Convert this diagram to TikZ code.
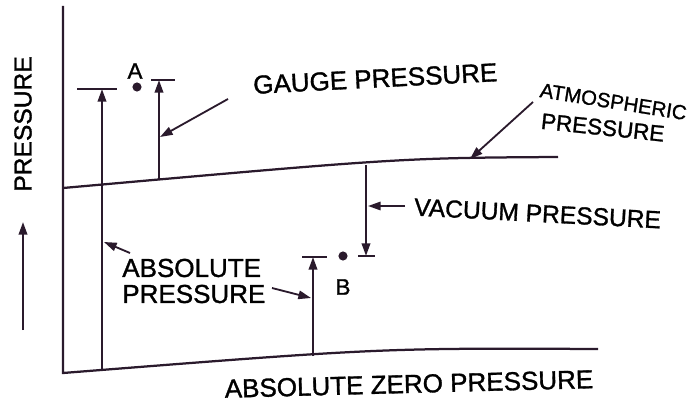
\documentclass[tikz,border=0pt]{standalone}
\usepackage{fontspec}
\setmainfont{Liberation Sans}[FakeBold=1.2]
\definecolor{myink}{HTML}{2A1A2C}
\usetikzlibrary{arrows.meta, positioning}
\tikzset{
	labeltext/.style={
			inner sep=0pt,
			font=\fontsize{18.5}{18.5}\selectfont,
			text=black
		},
	pointlabel/.style={
			labeltext,
			font=\fontsize{16}{16}\selectfont
		},
	pointnode/.style={
			circle,
			fill=myink,
			minimum size=6.5pt,
			inner sep=0pt
		},
	levelline/.style={
			draw=myink,
			line width=1.6pt
		},
	pointer/.style={
			levelline,
			-{Triangle[length=9pt,width=6pt]}
		},
	leader/.style={
			draw=myink,
			line width=1.3pt,
			-{Triangle[length=9pt,width=6pt]}
		}
}
\begin{document}
\begin{tikzpicture}[x=0.025cm, y=-0.025cm]
\useasboundingbox (0,0) rectangle (692,407);

% axis, zero level and atmospheric level
\coordinate (axtop) at (63,6);
\coordinate (zero0) at (63,373);
\coordinate (zero1) at (598,349);
\coordinate (atm0) at (63,188);
\coordinate (atm1) at (558,157);
\draw[levelline] (axtop) -- (zero0) .. controls (380,348) .. (zero1);
\draw[levelline] (atm0) .. controls (400,158) .. (atm1);

% point A
\coordinate (absA0) at (102,370);
\coordinate (absA1) at (102,89);
\coordinate (gaugeA0) at (159,180);
\coordinate (gaugeA1) at (159,80);
\draw[pointer] (absA0) -- (absA1);
\draw[levelline] (absA1) ++(-25,0) -- ++(40,0);
\draw[pointer] (gaugeA0) -- (gaugeA1);
\draw[levelline] (gaugeA1) ++(-8,0) -- ++(24,0);
\node[pointnode] (dotA) at (137,87) {};
\node[pointlabel] (labA) at (135,71) {A};

% point B
\coordinate (vac0) at (366,165);
\coordinate (vac1) at (366,256);
\coordinate (absB0) at (313,356);
\coordinate (absB1) at (313,257);
\draw[pointer] (vac0) -- (vac1);
\draw[levelline] (vac1) ++(-8,0) -- ++(17,0);
\draw[pointer] (absB0) -- (absB1);
\draw[levelline] (absB1) ++(-11,0) -- ++(25,0);
\node[pointnode] (dotB) at (343,256) {};
\node[pointlabel] (labB) at (343,287) {B};

% labels
\node[labeltext, anchor=west, rotate=3] (gauge) at (253,85) {GAUGE PRESSURE};
\node[labeltext, anchor=west, rotate=-9, font=\fontsize{14.5}{14.5}\selectfont] (atmtop) at (540,90) {ATMOSPHERIC};
\node[labeltext, anchor=west, rotate=-6, font=\fontsize{16}{16}\selectfont] (atmbot) at (541,121) {PRESSURE};
\node[labeltext, anchor=west, rotate=-3, font=\fontsize{17.5}{17.5}\selectfont] (vacuum) at (414,207) {VACUUM PRESSURE};
\node[labeltext, anchor=west, align=left] (absolute) at (122,281) {ABSOLUTE\\PRESSURE};
\node[labeltext, rotate=1.5] (zero) at (409,384) {ABSOLUTE ZERO PRESSURE};
\node[labeltext, rotate=90, font=\fontsize{17.5}{17.5}\selectfont] (axlabel) at (23,124) {PRESSURE};

% leaders
\coordinate (gaugetail) at (228,99);
\coordinate (gaugehit) at (160,137);
\coordinate (atmtail) at (533,102);
\coordinate (atmhit) at (470,159);
\coordinate (vactail) at (405,206);
\coordinate (vachit) at (368,206);
\coordinate (absAtail) at (130,253);
\coordinate (absAhit) at (104,242);
\coordinate (absBtail) at (272,288);
\coordinate (absBhit) at (311,298);
\draw[leader] (gaugetail) -- (gaugehit);
\draw[leader] (atmtail) -- (atmhit);
\draw[leader] (vactail) -- (vachit);
\draw[leader] (absAtail) -- (absAhit);
\draw[leader] (absBtail) -- (absBhit);

% upward arrow
\coordinate (up0) at (23,330);
\coordinate (up1) at (23,222);
\draw[pointer] (up0) -- (up1);

\end{tikzpicture}
\end{document}
